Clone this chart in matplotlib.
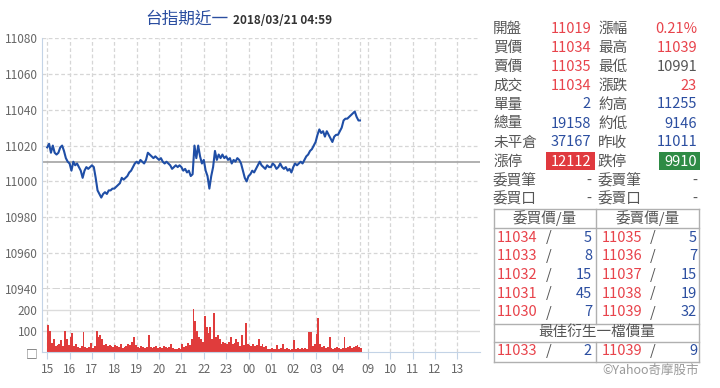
import matplotlib
matplotlib.use("Agg")
import matplotlib.pyplot as plt
from matplotlib.patches import Rectangle

plt.rcParams['font.family'] = ['Noto Sans CJK TC', 'DejaVu Sans']

# minutes after 15:00 (night session), 5-minute samples, last one 04:59
times = list(range(0, 840, 5)) + [839]

prices = [
    11019, 11021, 11016, 11020, 11016, 11015, 11016, 11019, 11020, 11017,
    11013, 11011, 11010, 11006, 11011, 11009, 11010, 11008, 11006, 11002,
    11006, 11008, 11007, 11008, 11009, 11008, 11002, 10995, 10993, 10991,
    10993, 10994, 10993, 10995, 10995, 10996, 10996, 10997, 10998, 10999,
    11002, 11001, 11002, 11003, 11005, 11006, 11008, 11010, 11011, 11010,
    11012, 11011, 11010, 11012, 11016, 11015, 11014, 11013, 11014, 11013,
    11012, 11013, 11011, 11010, 11011, 11010, 11009, 11007, 11008, 11009,
    11008, 11009, 11008, 11006, 11007, 11005, 11006, 11003, 11004, 11020,
    11013, 11020, 11014, 11010, 11012, 11006, 11003, 10996, 11003, 11008,
    11017, 11012, 11015, 11013, 11015, 11013, 11014, 11012, 11013, 11010,
    11012, 11011, 11013, 11012, 11010, 11006, 11002, 11000, 11003, 11004,
    11006, 11005, 11007, 11009, 11011, 11009, 11008, 11007, 11009, 11008,
    11008, 11010, 11009, 11007, 11008, 11010, 11008, 11007, 11008, 11006,
    11007, 11005, 11008, 11010, 11009, 11010, 11011, 11010, 11012, 11014,
    11015, 11017, 11018, 11020, 11022, 11026, 11029, 11027, 11028, 11025,
    11028, 11026, 11024, 11022, 11025, 11026, 11026, 11028, 11030, 11034,
    11035, 11035, 11036, 11037, 11038, 11039, 11036, 11034, 11034,
]

volumes = [
    130, 100, 45, 60, 30, 35, 40, 55, 30, 100,
    60, 35, 70, 90, 30, 40, 25, 20, 30, 95,
    25, 20, 25, 45, 20, 30, 100, 70, 80, 60,
    35, 40, 30, 35, 30, 25, 35, 30, 25, 40,
    20, 25, 30, 40, 35, 50, 70, 35, 25, 20,
    30, 25, 20, 25, 80, 25, 20, 25, 30, 20,
    25, 20, 30, 25, 20, 25, 40, 20, 15, 15,
    20, 15, 40, 25, 30, 45, 35, 60, 205, 150,
    100, 70, 60, 50, 170, 120, 90, 120, 60, 185,
    70, 80, 60, 40, 50, 45, 40, 50, 70, 40,
    45, 60, 50, 30, 80, 35, 140, 40, 35, 30,
    40, 30, 35, 60, 30, 40, 25, 30, 15, 15,
    20, 15, 15, 35, 15, 20, 40, 15, 20, 15,
    10, 15, 55, 15, 20, 15, 20, 15, 20, 15,
    95, 95, 30, 40, 85, 160, 40, 25, 30, 20,
    25, 70, 20, 15, 20, 25, 20, 15, 20, 70,
    20, 25, 30, 20, 25, 30, 35, 25, 20,
]

prev_close = 11011

tick_pos = [0, 60, 120, 180, 240, 300, 360, 420, 480, 540, 600, 660, 720, 780,
            860, 920, 980, 1040, 1100]
tick_lab = ['15', '16', '17', '18', '19', '20', '21', '22', '23', '00', '01',
            '02', '03', '04', '09', '10', '11', '12', '13']

left_labels = ['開盤', '買價', '賣價', '成交', '單量', '總量', '未平倉', '漲停', '委買筆', '委買口']
left_values = ['11019', '11034', '11035', '11034', '2', '19158', '37167', '12112', '-', '-']
right_labels = ['漲幅', '最高', '最低', '漲跌', '約高', '約低', '昨收', '跌停', '委賣筆', '委賣口']
right_values = ['0.21%', '11039', '10991', '23', '11255', '9146', '11011', '9910', '-', '-']

bid_price = ['11034', '11033', '11032', '11031', '11030']
bid_qty = ['5', '8', '15', '45', '7']
ask_price = ['11035', '11036', '11037', '11038', '11039']
ask_qty = ['5', '7', '15', '19', '32']
best_bid = ('11033', '2')
best_ask = ('11039', '9')

RED = '#e8434b'
BLUE = '#2b4ea0'
GRAY = '#555555'
TICK = '#666666'
GRID = '#d6d6d6'
AXBLUE = '#c3d3e6'

W, H = 720, 388
fig = plt.figure(figsize=(7.2, 3.88), dpi=100)

def frac(x0, y0, x1, y1):
    return [x0 / W, 1 - y1 / H, (x1 - x0) / W, (y1 - y0) / H]

xlim = (-14, 1161)

# price panel
ax = fig.add_axes(frac(42, 38, 480, 289))
ax.set_xlim(*xlim)
ax.set_ylim(10940, 11080)
ax.set_yticks([10940, 10960, 10980, 11000, 11020, 11040, 11060, 11080])
for y in ax.get_yticks():
    ax.axhline(y, color=GRID, lw=0.9, ls=(0, (3, 2)), zorder=0)
ax.axhline(10940, color='#c8c8c8', lw=1.8, ls=(0, (3, 1)), zorder=0)
for x in tick_pos + [840]:
    ax.axvline(x, color=GRID, lw=0.9, ls=(0, (3, 2)), zorder=0)
ax.axhline(prev_close, color='#aaaaaa', lw=1.3, zorder=1)
ax.plot(times, prices, color='#1f4ea6', lw=1.5, zorder=2)
for s in ['top', 'right', 'bottom']:
    ax.spines[s].set_visible(False)
ax.spines['left'].set_color(AXBLUE)
ax.tick_params(axis='y', length=0, pad=3, labelsize=8.5, labelcolor=TICK)
ax.tick_params(axis='x', bottom=False, labelbottom=False)

# volume panel
axv = fig.add_axes(frac(42, 289, 480, 352))
axv.set_xlim(*xlim)
axv.set_ylim(0, 300)
axv.set_yticks([0, 100, 200])
axv.set_yticklabels(['□', '100', '200'])
for y in [100, 200]:
    axv.axhline(y, color='#dcdcdc', lw=1.0, zorder=0)
for x in tick_pos + [840]:
    axv.axvline(x, color=GRID, lw=0.9, ls=(0, (3, 2)), zorder=0)
axv.bar(times, volumes, width=5.0, align='edge', color='#e03c3c', lw=0, zorder=2)
axv.set_xticks(tick_pos)
axv.set_xticklabels(tick_lab)
for s in ['top', 'right']:
    axv.spines[s].set_visible(False)
axv.spines['left'].set_color(AXBLUE)
axv.spines['bottom'].set_color(AXBLUE)
axv.tick_params(axis='y', length=0, pad=3, labelsize=8.5, labelcolor=TICK)
axv.tick_params(axis='x', length=5, color=AXBLUE, pad=3, labelsize=8.5, labelcolor=TICK)
axv.patch.set_alpha(0)

# overlay in pixel coordinates for texts and table
ov = fig.add_axes([0, 0, 1, 1], zorder=5)
ov.set_xlim(0, W)
ov.set_ylim(H, 0)
ov.axis('off')
ov.patch.set_alpha(0)

ov.text(145, 19, '台指期近一', fontsize=12, color='#2b4ea0', ha='left', va='center')
ov.text(233, 20, '2018/03/21 04:59', fontsize=8.5, color='#333333', fontweight='bold',
        ha='left', va='center')

lcol = [RED, RED, RED, RED, BLUE, BLUE, BLUE, 'white', GRAY, GRAY]
rcol = [RED, RED, GRAY, RED, BLUE, BLUE, BLUE, 'white', GRAY, GRAY]
row_y = [29, 48, 67, 86, 104.5, 123.5, 142.5, 161.5, 181, 199]
ov.add_patch(Rectangle((545.5, 152), 49, 18, color='#e0393e', lw=0))
ov.add_patch(Rectangle((659, 152), 41, 18, color='#2e8b45', lw=0))
fs = 10.5
for i, y in enumerate(row_y):
    ov.text(493, y, left_labels[i], fontsize=fs, color=GRAY, ha='left', va='center')
    ov.text(591, y, left_values[i], fontsize=fs, color=lcol[i], ha='right', va='center')
    ov.text(598, y, right_labels[i], fontsize=fs, color=GRAY, ha='left', va='center')
    ov.text(697, y, right_values[i], fontsize=fs, color=rcol[i], ha='right', va='center')

# order book table
lc = '#b0b0b0'
tx0, tx1, tmid = 494, 699, 595.5
def hline(y):
    ov.plot([tx0, tx1], [y, y], color=lc, lw=1)
for y in [208.5, 227.5, 323.5, 341.5, 361.5]:
    hline(y)
ov.plot([tx0, tx0], [208.5, 361.5], color=lc, lw=1)
ov.plot([tx1, tx1], [208.5, 361.5], color=lc, lw=1)
ov.plot([tmid, tmid], [208.5, 323.5], color=lc, lw=1)
ov.plot([tmid, tmid], [341.5, 361.5], color=lc, lw=1)

ov.text((tx0 + tmid) / 2, 218, '委買價/量', fontsize=fs, color=GRAY, ha='center', va='center')
ov.text((tmid + tx1) / 2, 218, '委賣價/量', fontsize=fs, color=GRAY, ha='center', va='center')
book_y = [237.5, 256, 275, 293.5, 312.5]
for i, y in enumerate(book_y):
    ov.text(496.5, y, bid_price[i], fontsize=fs, color=RED, ha='left', va='center')
    ov.text(549, y, '/', fontsize=fs, color=GRAY, ha='center', va='center')
    ov.text(592, y, bid_qty[i], fontsize=fs, color=BLUE, ha='right', va='center')
    ov.text(601.5, y, ask_price[i], fontsize=fs, color=RED, ha='left', va='center')
    ov.text(653, y, '/', fontsize=fs, color=GRAY, ha='center', va='center')
    ov.text(697, y, ask_qty[i], fontsize=fs, color=BLUE, ha='right', va='center')
ov.text((tx0 + tx1) / 2, 332, '最佳衍生一檔價量', fontsize=fs, color=GRAY, ha='center', va='center')
ov.text(496.5, 351, best_bid[0], fontsize=fs, color=RED, ha='left', va='center')
ov.text(549, 351, '/', fontsize=fs, color=GRAY, ha='center', va='center')
ov.text(592, 351, best_bid[1], fontsize=fs, color=BLUE, ha='right', va='center')
ov.text(601.5, 351, best_ask[0], fontsize=fs, color=RED, ha='left', va='center')
ov.text(653, 351, '/', fontsize=fs, color=GRAY, ha='center', va='center')
ov.text(697, 351, best_ask[1], fontsize=fs, color=BLUE, ha='right', va='center')

ov.text(699, 370, '©Yahoo奇摩股市', fontsize=9, color='#999999', ha='right', va='center')

fig.savefig('out.png', dpi=100)
